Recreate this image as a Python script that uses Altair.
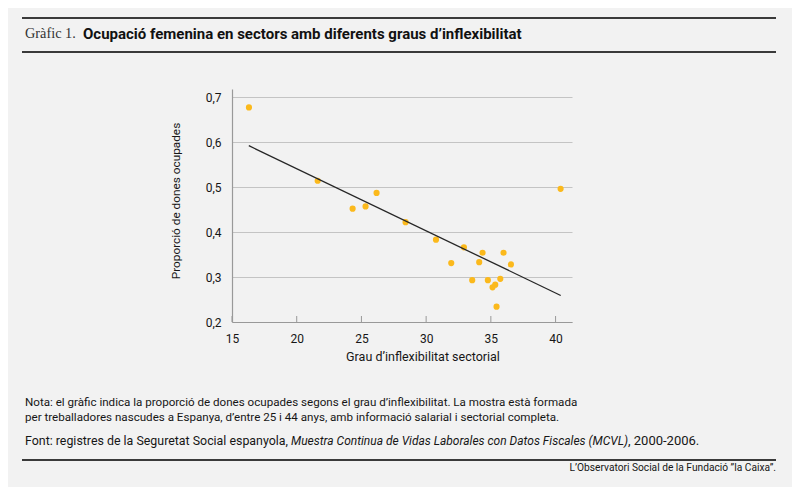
import altair as alt
import pandas as pd

# ---- data ----
x_vals = [16.31, 21.62, 24.32, 25.32, 26.17, 28.41, 30.76, 31.94, 32.92, 33.56,
          34.10, 34.36, 34.77, 35.13, 35.34, 35.44, 35.73, 35.98, 36.55, 40.39]
y_vals = [0.677, 0.514, 0.452, 0.457, 0.487, 0.422, 0.383, 0.331, 0.366, 0.293,
          0.333, 0.354, 0.293, 0.277, 0.283, 0.234, 0.296, 0.354, 0.328, 0.496]
trend_x = [16.3, 40.4]
trend_y = [0.592, 0.259]
x_ticks = [15, 20, 25, 30, 35, 40]
y_ticks = [0.2, 0.3, 0.4, 0.5, 0.6, 0.7]

title_prefix = "Gràfic 1."
title_main = "Ocupació femenina en sectors amb diferents graus d’inflexibilitat"
x_title = "Grau d’inflexibilitat sectorial"
y_title = "Proporció de dones ocupades"
note1 = "Nota: el gràfic indica la proporció de dones ocupades segons el grau d’inflexibilitat. La mostra està formada"
note2 = "per treballadores nascudes a Espanya, d’entre 25 i 44 anys, amb informació salarial i sectorial completa."
font_a = "Font: registres de la Seguretat Social espanyola,"
font_b = "Muestra Continua de Vidas Laborales con Datos Fiscales (MCVL)"
font_c = ", 2000-2006."
credit = "L’Observatori Social de la Fundació ”la Caixa”."

W, H = 340, 233
OX, OY = 232, 89  # plot origin on page

BG = "#f2f2f2"
DOT = "#fbb91c"
SANS = "Roboto"
INK = "#161616"

df = pd.DataFrame({"x": x_vals, "y": y_vals})
trend = pd.DataFrame({"x": trend_x, "y": trend_y})
ticks = pd.DataFrame({"x": x_ticks})

xs = alt.Scale(domain=[15, 41.27], nice=False, zero=False)
ys = alt.Scale(domain=[0.2, 0.718], nice=False, zero=False)

points = alt.Chart(df).mark_circle(size=38, color=DOT, opacity=1).encode(
    x=alt.X("x:Q", scale=xs,
            axis=alt.Axis(values=x_ticks, title=None, grid=False, ticks=False,
                          domainColor="#999999", domainWidth=1.2,
                          labelFont=SANS, labelFontSize=12, labelColor=INK,
                          labelPadding=11, labelFlush=False)),
    y=alt.Y("y:Q", scale=ys,
            axis=alt.Axis(values=y_ticks, title=None, grid=True, gridColor="#c4c4c4",
                          ticks=False, domainColor="#999999", domainWidth=1.2,
                          labelFont=SANS, labelFontSize=12, labelColor=INK,
                          labelPadding=11,
                          labelExpr="replace(format(datum.value, '.1f'), '.', ',')")),
)

line = alt.Chart(trend).mark_line(color="#262626", strokeWidth=1.3).encode(
    x=alt.X("x:Q", scale=xs), y=alt.Y("y:Q", scale=ys))

tickmarks = alt.Chart(ticks).mark_rule(color="#999999", strokeWidth=1).encode(
    x=alt.X("x:Q", scale=xs), y=alt.value(H), y2=alt.value(H - 6))


def txt(t, px, py, **kw):
    return alt.Chart(pd.DataFrame({"t": [t]})).mark_text(**kw).encode(
        text="t:N", x=alt.value(px - OX), y=alt.value(py - OY))


def hrule(py, x1=22, x2=776, w=2):
    return alt.Chart(pd.DataFrame({"a": [0]})).mark_rule(
        color="#3a3a3a", strokeWidth=w).encode(
        x=alt.value(x1 - OX), x2=alt.value(x2 - OX), y=alt.value(py - OY))


layers = [
    hrule(18), hrule(52), hrule(460),
    txt(title_prefix, 25, 34, font="Liberation Serif", fontSize=14.3, align="left",
        baseline="middle", color="#333333"),
    txt(title_main, 83, 34, font=SANS, fontSize=15, fontWeight="bold", align="left",
        baseline="middle", color="#111111"),
    txt(x_title, 423, 357, font=SANS, fontSize=12.5, align="center",
        baseline="middle", color=INK),
    txt(y_title, 176, 201, font=SANS, fontSize=11.8, align="center",
        baseline="middle", angle=270, color=INK),
    txt(note1, 25, 403, font=SANS, fontSize=11.6, align="left", baseline="middle", color=INK),
    txt(note2, 25, 418, font=SANS, fontSize=11.6, align="left", baseline="middle", color=INK),
    txt(font_a, 25, 441, font=SANS, fontSize=12.4, align="left", baseline="middle", color=INK),
    txt(font_b, 291, 441, font=SANS, fontSize=12, fontStyle="italic", align="left",
        baseline="middle", color=INK),
    txt(font_c, 628, 441, font=SANS, fontSize=13, align="left", baseline="middle", color=INK),
    txt(credit, 776, 468, font=SANS, fontSize=10.2, align="right", baseline="middle", color=INK),
]

chart = alt.layer(points, line, tickmarks, *layers).properties(
    width=W, height=H,
    autosize=alt.AutoSizeParams(type="none"),
    padding={"left": OX - 8, "top": OY - 8, "right": 784 - (OX - 8) - W,
             "bottom": 479 - (OY - 8) - H},
    background=BG,
).configure_view(stroke=None)

chart.save("out.html", embed_options={"renderer": "svg", "actions": False})
